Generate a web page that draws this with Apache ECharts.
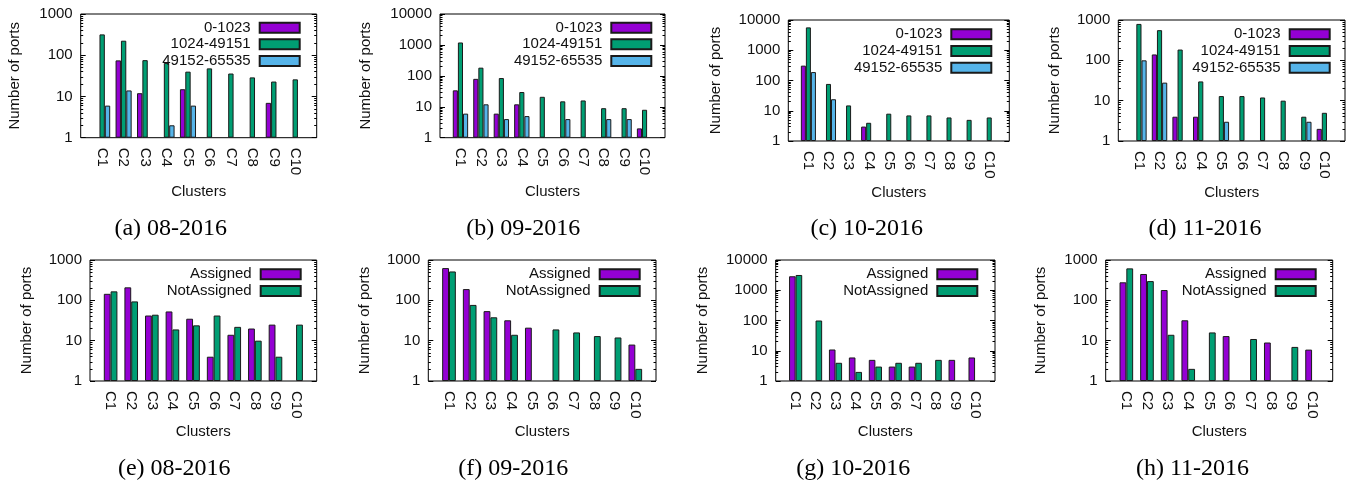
<!DOCTYPE html>
<html><head><meta charset="utf-8">
<script src="https://cdn.jsdelivr.net/npm/echarts@6/dist/echarts.min.js"></script>
<style>html,body{margin:0;padding:0;background:#fff}#c{width:1354px;height:482px}</style>
</head><body><div id="c"></div>
<script>
// ---------------- data ----------------
const clusters = ['C1','C2','C3','C4','C5','C6','C7','C8','C9','C10'];
const portSeriesNames = ['0-1023','1024-49151','49152-65535'];
const assignSeriesNames = ['Assigned','NotAssigned'];
const yTicks1000 = [1,10,100,1000];
const yTicks10000 = [1,10,100,1000,10000];

// (a) 08-2016  port ranges
const aug_0_1023      = [null,75,12,null,15,null,null,null,7,null];
const aug_1024_49151  = [320,225,76,65,40,48,36,29,23,26];
const aug_49152_65535 = [6,14,null,2,6,null,null,null,null,null];
// (b) 09-2016
const sep_0_1023      = [34,80,6,12,null,null,null,null,null,2];
const sep_1024_49151  = [1200,184,85,30,21,15,16,9,9,8];
const sep_49152_65535 = [6,12,4,5,null,4,null,4,4,null];
// (c) 10-2016
const oct_0_1023      = [310,null,null,3,null,null,null,null,null,null];
const oct_1024_49151  = [5700,77,15,4,8,7,7,6,5,6];
const oct_49152_65535 = [190,24,null,null,null,null,null,null,null,null];
// (d) 11-2016
const nov_0_1023      = [null,140,4,4,null,null,null,null,null,2];
const nov_1024_49151  = [800,560,185,30,13,13,12,10,4,5];
const nov_49152_65535 = [100,28,null,null,3,null,null,null,3,null];

// (e) 08-2016 assigned / not assigned
const aug_assigned    = [145,210,42,53,35,4,14,20,25,null];
const aug_notAssigned = [167,94,44,19,24,42,22,10,4,25];
// (f) 09-2016
const sep_assigned    = [630,190,54,32,21,null,null,null,null,8];
const sep_notAssigned = [520,77,38,14,null,19,16,13,12,2];
// (g) 10-2016
const oct_assigned    = [2900,null,11,6,5,3,3,null,5,6];
const oct_notAssigned = [3200,100,4,2,3,4,4,5,null,null];
// (h) 11-2016
const nov_assigned    = [280,450,180,32,null,13,null,9,null,6];
const nov_notAssigned = [620,300,14,2,16,null,11,null,7,null];

// ---------------- styling / layout ----------------
const seriesColors = {
  '0-1023':'#9400D3','Assigned':'#9400D3',
  '1024-49151':'#009E73','NotAssigned':'#009E73',
  '49152-65535':'#56B4E9'
};
const SANS = 'Liberation Sans, Arial, Helvetica, sans-serif';
const SERIF = 'Liberation Serif, Times New Roman, serif';
const FS = 15;

const panels = [
  {caption:'(a) 08-2016', names:portSeriesNames, values:[aug_0_1023,aug_1024_49151,aug_49152_65535], yTicks:yTicks1000,
   grid:{left:80.7,top:14,width:236,height:123.7}, yNameGap:58, xNameGap:47, legend:{right:1053.3,top:19.3}, cap:[170.7,228.3]},
  {caption:'(b) 09-2016', names:portSeriesNames, values:[sep_0_1023,sep_1024_49151,sep_49152_65535], yTicks:yTicks10000,
   grid:{left:440,top:14,width:225,height:123.7}, yNameGap:67, xNameGap:47, legend:{right:701.7,top:19.3}, cap:[523.3,228.3]},
  {caption:'(c) 10-2016', names:portSeriesNames, values:[oct_0_1023,oct_1024_49151,oct_49152_65535], yTicks:yTicks10000,
   grid:{left:788.3,top:20,width:221,height:121}, yNameGap:65, xNameGap:44, legend:{right:361.7,top:26}, cap:[866.7,228.3]},
  {caption:'(d) 11-2016', names:portSeriesNames, values:[nov_0_1023,nov_1024_49151,nov_49152_65535], yTicks:yTicks1000,
   grid:{left:1118.3,top:20,width:226.7,height:121}, yNameGap:56, xNameGap:44, legend:{right:23.3,top:26}, cap:[1205,228.3]},
  {caption:'(e) 08-2016', names:assignSeriesNames, values:[aug_assigned,aug_notAssigned], yTicks:yTicks1000,
   grid:{left:90,top:260,width:226.7,height:121}, yNameGap:56, xNameGap:43.5, legend:{right:1052.3,top:266}, cap:[174.2,468.3]},
  {caption:'(f) 09-2016', names:assignSeriesNames, values:[sep_assigned,sep_notAssigned], yTicks:yTicks1000,
   grid:{left:428.3,top:260,width:227.7,height:121}, yNameGap:56, xNameGap:43.5, legend:{right:713.3,top:266}, cap:[513.3,468.3]},
  {caption:'(g) 10-2016', names:assignSeriesNames, values:[oct_assigned,oct_notAssigned], yTicks:yTicks10000,
   grid:{left:775.7,top:260,width:219.3,height:121}, yNameGap:65, xNameGap:43.5, legend:{right:375.7,top:266}, cap:[853.3,468.3]},
  {caption:'(h) 11-2016', names:assignSeriesNames, values:[nov_assigned,nov_notAssigned], yTicks:yTicks1000,
   grid:{left:1105.7,top:260,width:227,height:121}, yNameGap:57, xNameGap:43.5, legend:{right:37.3,top:266}, cap:[1192.5,468.3]}
];

function minorTicks(maxV){
  const out=[];
  for(let d=1; d<maxV; d*=10) for(let k=2;k<=9;k++) out.push(d*k);
  return out;
}
const clusterPositions = clusters.map((c,i)=>i+1);

const grids=[], xAxes=[], yAxes=[], series=[], legends=[], graphics=[];
panels.forEach((p,pi)=>{
  const ymax = p.yTicks[p.yTicks.length-1];
  grids.push(Object.assign({show:true, borderColor:'#000', borderWidth:1, backgroundColor:'transparent', containLabel:false, outerBoundsMode:'none'}, p.grid));
  xAxes.push({
    type:'value', gridIndex:pi, min:0, max:11,
    axisLine:{show:false}, axisTick:{show:false}, splitLine:{show:false},
    axisLabel:{customValues:clusterPositions, formatter:v=>clusters[Math.round(v)-1]||'', rotate:-90, margin:10,
      fontSize:FS, fontFamily:SANS, color:'#111'},
    name:'Clusters', nameLocation:'middle', nameGap:p.xNameGap,
    nameTextStyle:{fontSize:FS, fontFamily:SANS, color:'#111', verticalAlign:'top'}
  });
  const base = {type:'log', logBase:10, min:1, max:ymax, gridIndex:pi, splitLine:{show:false}, axisLine:{show:false}};
  yAxes.push(Object.assign({}, base, {
    position:'left',
    axisTick:{inside:true, length:5, customValues:p.yTicks, lineStyle:{color:'#000'}},
    axisLabel:{customValues:p.yTicks, formatter:v=>String(Math.round(v)), fontSize:FS, fontFamily:SANS, color:'#111', margin:8},
    name:'Number of ports', nameLocation:'middle', nameGap:p.yNameGap,
    nameTextStyle:{fontSize:FS, fontFamily:SANS, color:'#111'}
  }));
  yAxes.push(Object.assign({}, base, {position:'left', axisLabel:{show:false},
    axisTick:{inside:true, length:2.5, customValues:minorTicks(ymax), lineStyle:{color:'#000'}}}));
  yAxes.push(Object.assign({}, base, {position:'right', axisLabel:{show:false},
    axisTick:{inside:true, length:5, customValues:p.yTicks, lineStyle:{color:'#000'}}}));
  yAxes.push(Object.assign({}, base, {position:'right', axisLabel:{show:false},
    axisTick:{inside:true, length:2.5, customValues:minorTicks(ymax), lineStyle:{color:'#000'}}}));
  const n = p.names.length;
  p.names.forEach((nm,si)=>{
    series.push({
      type:'bar', name:nm, xAxisIndex:pi, yAxisIndex:pi*4,
      barWidth: n===3 ? '25%' : '33%', barGap:'0%',
      itemStyle:{color:seriesColors[nm], borderColor:'#1a1a1a', borderWidth:1},
      data: p.values[si].map((v,i)=>[clusterPositions[i], v==null?'-':v]),
      silent:true
    });
  });
  legends.push({
    data:p.names, orient:'vertical', align:'right', right:p.legend.right, top:p.legend.top,
    padding:0, itemGap:0, itemWidth:40, itemHeight:10, selectedMode:false,
    icon:'rect',
    textStyle:{fontSize:FS, fontFamily:SANS, color:'#111', lineHeight:16.7, padding:[0,4,0,0]}
  });
  graphics.push({type:'text', x:p.cap[0], y:p.cap[1],
    style:{text:p.caption, fill:'#000', font:'24px '+SERIF, align:'center', verticalAlign:'middle'}});
});

const chart = echarts.init(document.getElementById('c'));
chart.setOption({
  animation:false, backgroundColor:'#fff',
  grid:grids, xAxis:xAxes, yAxis:yAxes, series:series, legend:legends, graphic:graphics
});
</script></body></html>
